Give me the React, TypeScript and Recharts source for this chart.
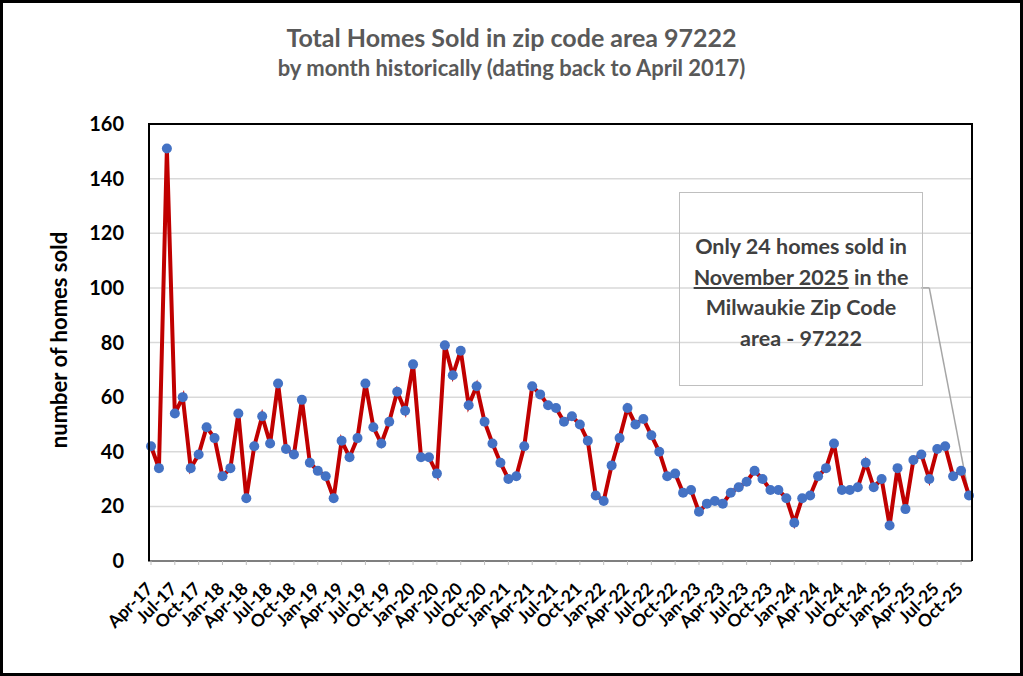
import { CartesianGrid, Line, LineChart, ReferenceLine, XAxis, YAxis } from "recharts";

const months = ["Apr", "May", "Jun", "Jul", "Aug", "Sep", "Oct", "Nov", "Dec", "Jan", "Feb", "Mar"];

// Apr-17 .. Nov-25
const categories: string[] = [];
for (let i = 0; i < 104; i++) {
  const m = months[i % 12];
  const yr = 17 + Math.floor((i + 3) / 12);
  categories.push(`${m}-${yr}`);
}

const homesSold = [
  42, 34, 151, 54, 60, 34, 39, 49, 45, 31, 34, 54,
  23, 42, 53, 43, 65, 41, 39, 59, 36, 33, 31, 23,
  44, 38, 45, 65, 49, 43, 51, 62, 55, 72, 38, 38,
  32, 79, 68, 77, 57, 64, 51, 43, 36, 30, 31, 42,
  64, 61, 57, 56, 51, 53, 50, 44, 24, 22, 35, 45,
  56, 50, 52, 46, 40, 31, 32, 25, 26, 18, 21, 22,
  21, 25, 27, 29, 33, 30, 26, 26, 23, 14, 23, 24,
  31, 34, 43, 26, 26, 27, 36, 27, 30, 13, 34, 19,
  37, 39, 30, 41, 42, 31, 33, 24
];

const yTicks = [0, 20, 40, 60, 80, 100, 120, 140, 160];

const data = categories.map((month, i) => ({ month, sold: homesSold[i] }));

const font = "Lato, 'Open Sans', sans-serif";

function XTick(props: any) {
  const { x, y, payload } = props;
  return (
    <g transform={`translate(${x + 3},${y + 23})`}>
      <text
        textAnchor="end"
        transform="rotate(-45)"
        fontFamily={font}
        fontWeight={700}
        fontSize={17.5}
        fill="#000"
      >
        {payload.value}
      </text>
    </g>
  );
}

export default function App() {
  return (
    <div
      style={{
        position: "relative",
        width: 1023,
        height: 676,
        boxSizing: "border-box",
        border: "3px solid #000",
        background: "#fff",
        fontFamily: font,
      }}
    >
      <style>{`body{margin:0}`}</style>
      <div style={{ position: "absolute", left: -3, top: -3, width: 1023, height: 676 }}>
        <LineChart width={1023} height={676} data={data} margin={{ top: 124, right: 51, bottom: 35, left: 84 }}>
          <CartesianGrid vertical={false} stroke="#d9d9d9" strokeWidth={1.5} />
          <XAxis
            dataKey="month"
            interval={2}
            height={80}
            padding={{ left: 3, right: 3 }}
            tick={<XTick />}
            tickLine={{ stroke: "#bfbfbf" }}
            tickSize={4}
            axisLine={{ stroke: "#7f7f7f", strokeWidth: 2 }}
          />
          <YAxis
            domain={[0, 160]}
            ticks={yTicks}
            width={64}
            tickLine={false}
            axisLine={false}
            tickMargin={18}
            tick={{ fontFamily: font, fontWeight: 700, fontSize: 20, fill: "#000" }}
          />
          <ReferenceLine
            segment={[
              { x: "May-25", y: 100 },
              { x: "Jun-25", y: 100 },
            ]}
            stroke="#a6a6a6"
            strokeWidth={1.5}
          />
          <ReferenceLine
            segment={[
              { x: "Jun-25", y: 100 },
              { x: "Nov-25", y: 24 },
            ]}
            stroke="#a6a6a6"
            strokeWidth={1.5}
          />
          <Line
            type="linear"
            dataKey="sold"
            stroke="#c00000"
            strokeWidth={4}
            dot={{ r: 5, fill: "#4472c4", stroke: "#4472c4", strokeWidth: 0 }}
            isAnimationActive={false}
          />
        </LineChart>
      </div>

      {/* plot border */}
      <div
        style={{
          position: "absolute",
          left: 145,
          top: 120,
          width: 825,
          height: 438,
          borderLeft: "2px solid #000",
          borderTop: "2px solid #000",
          borderRight: "2px solid #000",
          boxSizing: "border-box",
          pointerEvents: "none",
        }}
      />

      <div
        style={{
          position: "absolute",
          left: -3,
          top: 19,
          width: 1023,
          textAlign: "center",
          color: "#595959",
          fontWeight: 700,
        }}
      >
        <div style={{ fontSize: 25, lineHeight: "30px" }}>Total Homes Sold in zip code area 97222</div>
        <div style={{ fontSize: 22, lineHeight: "31px" }}>by month historically (dating back to April 2017)</div>
      </div>

      <div
        style={{
          position: "absolute",
          left: 55,
          top: 337,
          transform: "translate(-50%, -50%) rotate(-90deg)",
          whiteSpace: "nowrap",
          fontWeight: 700,
          fontSize: 22,
          color: "#000",
        }}
      >
        number of homes sold
      </div>

      <div
        style={{
          position: "absolute",
          left: 676,
          top: 189,
          width: 244,
          height: 194,
          border: "1px solid #bfbfbf",
          boxSizing: "border-box",
          display: "flex",
          alignItems: "center",
          justifyContent: "center",
          textAlign: "center",
          color: "#404040",
          fontWeight: 700,
          fontSize: 21.5,
          lineHeight: "30.5px",
          paddingTop: 6,
        }}
      >
        <div>
          Only 24 homes sold in
          <br />
          <span style={{ textDecoration: "underline" }}>November 2025</span> in the
          <br />
          Milwaukie Zip Code
          <br />
          area - 97222
        </div>
      </div>
    </div>
  );
}
